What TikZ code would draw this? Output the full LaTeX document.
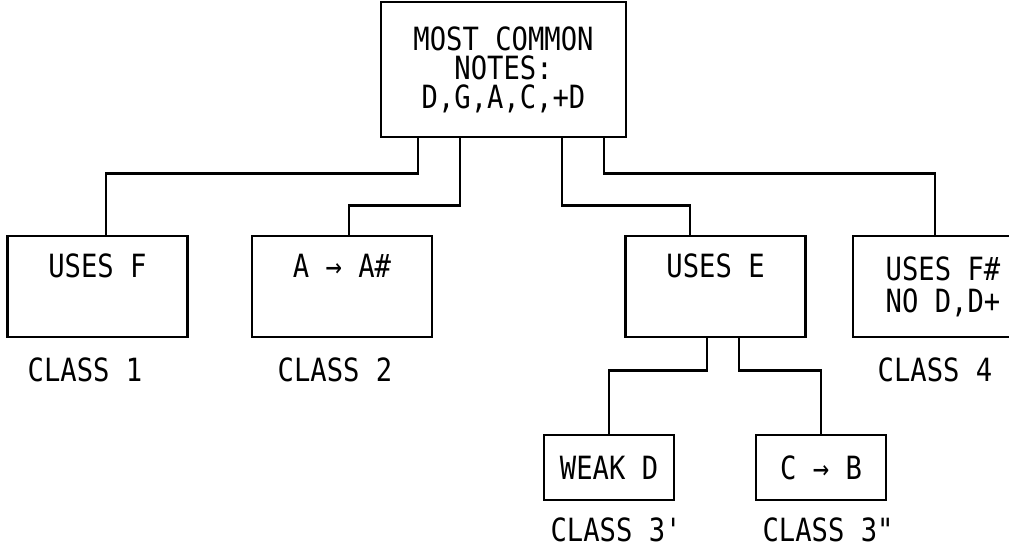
\documentclass[tikz,border=0pt]{standalone}
\usepackage{fontspec}
\setmonofont[FakeStretch=0.85]{DejaVu Sans Mono}
\begin{document}
\begin{tikzpicture}[x=1pt,y=-1pt,
  every node/.style={font=\ttfamily\fontsize{32}{32}\selectfont},
  box/.style={draw,line width=2.6pt,align=center,inner sep=0pt},
  bigbox/.style={box,minimum width=180pt,minimum height=101pt},
  smallbox/.style={box,minimum width=130pt,minimum height=65pt},
  lab/.style={inner sep=0pt},
  conn/.style={line width=2.6pt}]
\clip (0,0) rectangle (1009,549);
\node[box,minimum width=245pt,minimum height=135pt,
      font=\ttfamily\fontsize{32}{29}\selectfont] (top) at (503.5,69.5)
  {MOST COMMON\\NOTES:\\D,G,A,C,+D};
\node[bigbox] (b1) at (97.5,286.5) {USES F\\\strut};
\node[bigbox] (b2) at (342,286.5) {A → A\#\\\strut};
\node[bigbox] (b3) at (715.5,286.5) {USES E\\\strut};
\node[bigbox] (b4) at (943,286.5) {USES F\#\\NO D,D+};
\node[smallbox] (b31) at (609,467.5) {WEAK D};
\node[smallbox] (b32) at (821,467.5) {C → B};
\node[lab] (l1) at (85,370) {CLASS 1};
\node[lab] (l2) at (335,370) {CLASS 2};
\node[lab] (l4) at (935,370) {CLASS 4};
\node[lab] (l31) at (616,530) {CLASS 3'};
\node[lab] (l32) at (828,530) {CLASS 3"};
\draw[conn] ([xshift=-85.5pt]top.south) -- ++(0,35) -| ([xshift=8.5pt]b1.north);
\draw[conn] ([xshift=-43.5pt]top.south) -- ++(0,67) -| ([xshift=7pt]b2.north);
\draw[conn] ([xshift=58.5pt]top.south) -- ++(0,67) -| ([xshift=-25.5pt]b3.north);
\draw[conn] ([xshift=100.5pt]top.south) -- ++(0,35) -| ([xshift=-8pt]b4.north);
\draw[conn] ([xshift=-8.5pt]b3.south) -- ++(0,32) -| (b31.north);
\draw[conn] ([xshift=23.5pt]b3.south) -- ++(0,32) -| (b32.north);
\end{tikzpicture}
\end{document}
